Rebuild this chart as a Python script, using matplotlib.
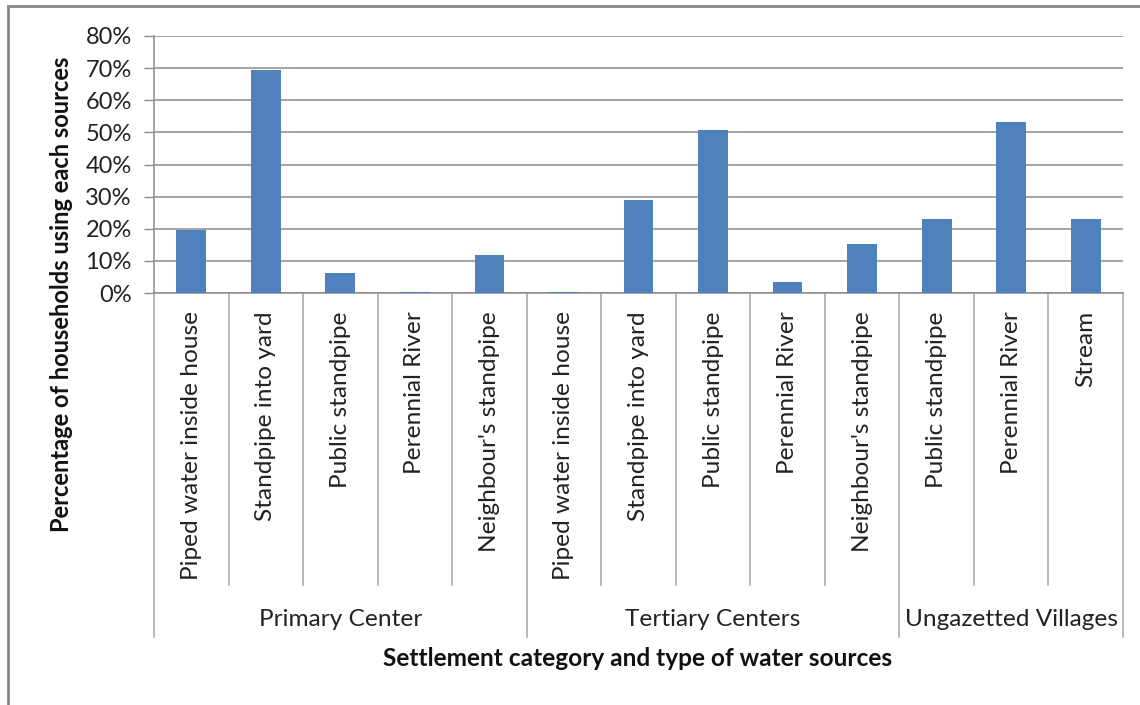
import matplotlib
matplotlib.use("Agg")
import matplotlib.pyplot as plt
from matplotlib.transforms import blended_transform_factory
from matplotlib.patches import Rectangle

# Water source shares by settlement category
groups = ["Primary Center", "Tertiary Centers", "Ungazetted Villages"]
primary_sources = ["Piped water inside house", "Standpipe into yard", "Public standpipe",
                   "Perennial River", "Neighbour's standpipe"]
primary_values = [19.7, 69.4, 6.3, 0.4, 11.9]
tertiary_sources = ["Piped water inside house", "Standpipe into yard", "Public standpipe",
                    "Perennial River", "Neighbour's standpipe"]
tertiary_values = [0.4, 29.1, 50.6, 3.5, 15.2]
village_sources = ["Public standpipe", "Perennial River", "Stream"]
village_values = [23.1, 53.1, 23.1]

y_ticks = [0, 10, 20, 30, 40, 50, 60, 70, 80]

plt.rcParams["font.family"] = ["Lato", "DejaVu Sans"]

W, H = 1140, 705
fig = plt.figure(figsize=(W / 100, H / 100), dpi=100)
fig.patch.set_facecolor("white")


def fx(px):
    return px / W


def fy(px):
    return 1 - px / H


ax = fig.add_axes([fx(154), fy(293), fx(1123) - fx(154), fy(36) - fy(293)])

labels = primary_sources + tertiary_sources + village_sources
values = primary_values + tertiary_values + village_values
sizes = [len(primary_sources), len(tertiary_sources), len(village_sources)]
n = len(values)
xs = list(range(n))

ax.bar(xs, [v / 100 for v in values], width=0.4, color="#4F81BD", zorder=3)

ax.set_xlim(-0.5, n - 0.5)
ax.set_ylim(0, 0.8)
ax.set_yticks([t / 100 for t in y_ticks])
ax.set_yticklabels([f"{t}%" for t in y_ticks], fontsize=17, color="#222222")
ax.tick_params(axis="y", direction="out", length=7, width=1, color="#8c8c8c", pad=9)
ax.set_xticks([])
ax.yaxis.grid(True, color="#8c8c8c", lw=1.1, zorder=0)
ax.set_axisbelow(True)
for side in ("top", "right"):
    ax.spines[side].set_visible(False)
for side in ("left", "bottom"):
    ax.spines[side].set_color("#8c8c8c")
    ax.spines[side].set_linewidth(1.1)

trans = blended_transform_factory(ax.transData, fig.transFigure)
line_kw = dict(color="#a6a6a6", lw=1.1, transform=trans, clip_on=False)

# Category labels under each bar
for x, lab in zip(xs, labels):
    ax.text(x, fy(311), lab, rotation=90, ha="center", va="top", fontsize=17.6,
            color="#222222", transform=trans)

# Separator lines for the two-level category axis
starts = []
s = 0
for k in sizes:
    starts.append(s)
    s += k
boundaries = [b - 0.5 for b in starts] + [n - 0.5]
for i in range(n + 1):
    b = i - 0.5
    bottom = 637 if b in boundaries else 585
    ax.plot([b, b], [fy(293), fy(bottom)], **line_kw)

for g, st, k in zip(groups, starts, sizes):
    ax.text(st + (k - 1) / 2, fy(620), g, ha="center", va="center", fontsize=17.6,
            color="#222222", transform=trans)

fig.text(fx(638), fy(658), "Settlement category and type of water sources",
         ha="center", va="center", fontsize=17.6, fontweight="bold", color="#111111")
fig.text(fx(62), fy(294), "Percentage of households using each sources",
         ha="center", va="center", rotation=90, fontsize=17, fontweight="bold",
         color="#111111")

# Chart border
fig.add_artist(Rectangle((fx(8), fy(700) - 0.1), 1.2, fy(6) - fy(700) + 0.1,
                         transform=fig.transFigure, fill=False,
                         edgecolor="#878787", lw=2, clip_on=False))

fig.savefig("out.png", dpi=100, facecolor="white")
